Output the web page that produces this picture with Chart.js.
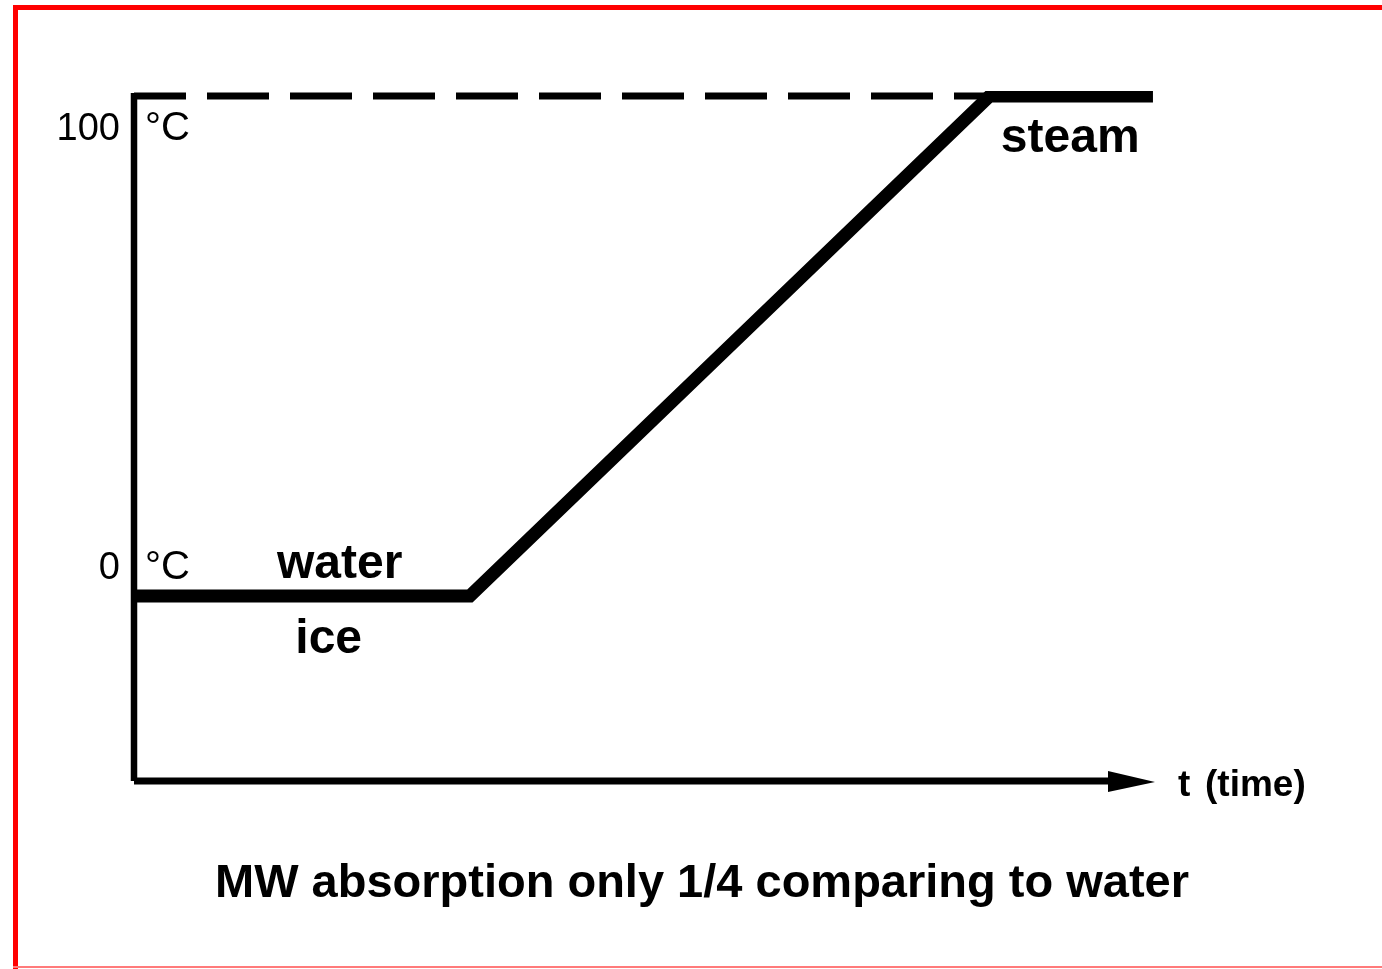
<!DOCTYPE html>
<html>
<head>
<meta charset="utf-8">
<title>Heating curve - ice, water, steam</title>
<script src="https://cdn.jsdelivr.net/npm/chart.js@4.4.1/dist/chart.umd.min.js"></script>
<style>
    html, body { margin: 0; padding: 0; background: #fff; overflow: hidden; }
    #wrap { position: relative; width: 1382px; height: 969px; }
    .frame { position: absolute; background: #ff0000; }
    #frameTop { left: 13px; top: 5px; right: 0; height: 5px; }
    #frameLeft { left: 13px; top: 5px; width: 5px; bottom: 0; }
    #frameBottom { left: 13px; right: 0; top: 966px; height: 2px; background: #ff7a7a; }
    canvas { position: absolute; left: 0; top: 0; }
</style>
</head>
<body>
<div id="wrap">
    <canvas id="heatChart"></canvas>
    <div class="frame" id="frameTop"></div>
    <div class="frame" id="frameLeft"></div>
    <div class="frame" id="frameBottom"></div>
</div>
<script>
// Heating curve data (time in arbitrary units, temperature in °C)
const timeValues = [0, 3.29, 8.38, 9.98];
const tempValues = [0, 0, 100, 100];

// Boiling point reference (dashed)
const boilTime = [0, 8.4];
const boilTemp = [100, 100];

// Axis ticks
const tickValues = [100, 0];
const tickLabels = ['100', '0'];
const unitLabel = '°C';

// Phase labels
const phaseLabels = ['water', 'ice', 'steam'];
const axisTitle = ['t', '(time)'];
const chartTitle = 'MW absorption only 1/4 comparing to water';

const FONT = '"Liberation Sans", Arial, Helvetica, sans-serif';

const toPoints = (xs, ys) => xs.map((x, i) => ({ x: x, y: ys[i] }));

// Draws the axes (with arrow) and all the text
const diagramPlugin = {
    id: 'diagram',
    afterDatasetsDraw(chart) {
        const ctx = chart.ctx;
        const area = chart.chartArea;
        const xs = chart.scales.x;
        const ys = chart.scales.y;
        const y100 = ys.getPixelForValue(100);
        const y0 = ys.getPixelForValue(0);

        ctx.save();
        ctx.strokeStyle = '#000';
        ctx.fillStyle = '#000';

        // axes
        ctx.lineJoin = 'round';
        ctx.lineCap = 'butt';
        ctx.lineWidth = 6.5;
        ctx.beginPath();
        ctx.moveTo(area.left, y100 - 3);
        ctx.lineTo(area.left, area.bottom);
        ctx.stroke();
        ctx.lineWidth = 7;
        ctx.beginPath();
        ctx.moveTo(area.left, area.bottom);
        ctx.lineTo(area.right - 45, area.bottom);
        ctx.stroke();

        // arrow head
        ctx.beginPath();
        ctx.moveTo(area.right - 47, area.bottom - 10);
        ctx.lineTo(area.right, area.bottom + 1);
        ctx.lineTo(area.right - 47, area.bottom + 11);
        ctx.closePath();
        ctx.fill();

        // tick labels
        ctx.textBaseline = 'alphabetic';
        const tickOffsets = [44, -17];
        tickValues.forEach((v, i) => {
            const py = ys.getPixelForValue(v) + tickOffsets[i];
            ctx.font = '38px ' + FONT;
            ctx.textAlign = 'right';
            ctx.fillText(tickLabels[i], area.left - 14, py);
            ctx.font = '40px ' + FONT;
            ctx.textAlign = 'left';
            ctx.fillText(unitLabel, area.left + 11, py);
        });

        // phase labels
        ctx.font = 'bold 48px ' + FONT;
        ctx.textAlign = 'left';
        ctx.fillText(phaseLabels[0], xs.getPixelForValue(1.4), y0 - 18);
        ctx.fillText(phaseLabels[1], xs.getPixelForValue(1.58), y0 + 57);
        ctx.fillText(phaseLabels[2], xs.getPixelForValue(8.49), y100 + 56);

        // time axis title
        ctx.font = 'bold 37px ' + FONT;
        ctx.fillText(axisTitle[0], area.right + 23, area.bottom + 15);
        ctx.fillText(axisTitle[1], area.right + 50, area.bottom + 15);

        // caption
        ctx.font = 'bold 47px ' + FONT;
        ctx.textAlign = 'center';
        ctx.fillText(chartTitle, 702, 897);

        ctx.restore();
    }
};

const heatChart = new Chart(document.getElementById('heatChart').getContext('2d'), {
    type: 'line',
    data: {
        datasets: [
            {
                label: 'boiling point',
                data: toPoints(boilTime, boilTemp),
                borderColor: '#000',
                borderWidth: 7,
                borderDash: [62, 21],
                borderDashOffset: 10,
                pointRadius: 0,
                tension: 0
            },
            {
                label: 'temperature',
                data: toPoints(timeValues, tempValues),
                borderColor: '#000',
                borderWidth: 13,
                borderJoinStyle: 'miter',
                borderCapStyle: 'butt',
                pointRadius: 0,
                tension: 0
            }
        ]
    },
    options: {
        responsive: true,
        maintainAspectRatio: false,
        animation: false,
        layout: {
            padding: { left: 134, right: 227, top: 91, bottom: 188 }
        },
        plugins: {
            legend: { display: false },
            tooltip: { enabled: false },
            title: { display: false }
        },
        scales: {
            x: { type: 'linear', display: false, min: 0, max: 10 },
            y: { type: 'linear', display: false, min: -37, max: 101 }
        }
    },
    plugins: [diagramPlugin]
});
</script>
</body>
</html>
